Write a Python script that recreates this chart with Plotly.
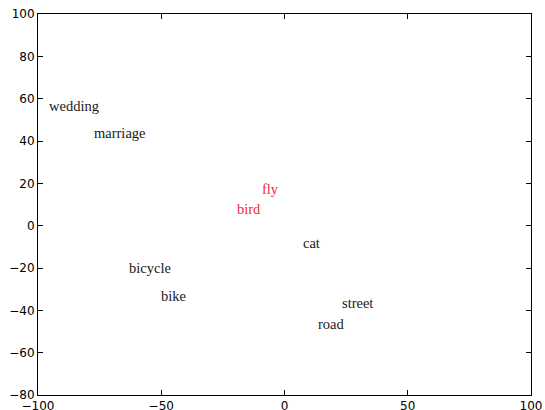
import plotly.graph_objects as go

# 2-D word embedding coordinates
words = ["wedding", "marriage", "fly", "bird", "cat", "bicycle", "bike", "street", "road"]
xs = [-95.9, -77.6, -9.5, -19.4, 7.4, -63.1, -50.5, 23.2, 13.5]
ys = [54.7, 42.0, 15.3, 5.9, -10.2, -21.7, -35.1, -38.3, -48.2]
highlight = ["fly", "bird"]

tick_vals_x = [-100, -50, 0, 50, 100]
tick_vals_y = [-80, -60, -40, -20, 0, 20, 40, 60, 80, 100]

fig = go.Figure()
# invisible anchor trace so the axes render
fig.add_trace(go.Scatter(x=xs, y=ys, mode="markers",
                         marker=dict(opacity=0), hoverinfo="text", text=words,
                         showlegend=False))

for w, x, y in zip(words, xs, ys):
    fig.add_annotation(
        x=x, y=y, text=w, showarrow=False,
        xanchor="left", yanchor="bottom", yshift=-6, xshift=-1.5,
        font=dict(family="Liberation Serif", size=14.5,
                  color="#e8303c" if w in highlight else "#1a1a1a"),
    )

axis_common = dict(
    showgrid=False, zeroline=False, showline=True, mirror="ticks",
    linecolor="black", linewidth=1, ticks="inside", ticklen=5,
    tickcolor="black", tickwidth=1, automargin=False,
    tickfont=dict(family="DejaVu Sans", size=12, color="black"),
)

fig.update_xaxes(range=[-100, 100], tickvals=tick_vals_x,
                 ticktext=["\u2212100", "\u221250", "0", "50", "100"],
                 ticklabelstandoff=0, **axis_common)
fig.update_yaxes(range=[-80, 100], tickvals=tick_vals_y,
                 ticktext=[("\u2212" + str(-v)) if v < 0 else str(v) for v in tick_vals_y],
                 **axis_common)

fig.update_layout(
    width=545, height=410,
    margin=dict(l=38, r=14, t=14, b=15),
    plot_bgcolor="white", paper_bgcolor="white",
)

fig.write_html("out.html")
